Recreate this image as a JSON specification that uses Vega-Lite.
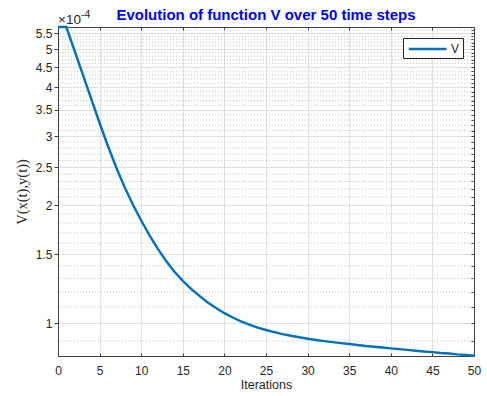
{
  "$schema": "https://vega.github.io/schema/vega-lite/v6.json",
  "width": 416,
  "height": 329,
  "autosize": {"type": "none"},
  "padding": {"left": 58, "top": 27, "right": 13, "bottom": 40},
  "background": "white",
  "config": {
    "font": "Liberation Sans",
    "view": {"stroke": null},
    "axis": {
      "labelFont": "Liberation Sans",
      "labelFontSize": 12,
      "labelColor": "#262626",
      "titleFont": "Liberation Sans",
      "titleFontWeight": "normal",
      "titleColor": "#262626",
      "domainColor": "#404040",
      "domainWidth": 1,
      "tickColor": "#404040",
      "gridColor": "#dfdfdf",
      "gridWidth": 1
    }
  },
  "title": {
    "text": "Evolution of function V over 50 time steps",
    "fontSize": 15,
    "fontWeight": "bold",
    "color": "#0000FF",
    "anchor": "middle",
    "offset": 5,
    "dy": 18,
    "font": "Liberation Sans"
  },
  "datasets": {
    "series": [
      {"t": 0, "v": 0.000570},
      {"t": 1, "v": 0.000570},
      {"t": 2, "v": 0.000495},
      {"t": 3, "v": 0.000430},
      {"t": 4, "v": 0.0003733},
      {"t": 5, "v": 0.0003242},
      {"t": 6, "v": 0.0002832},
      {"t": 7, "v": 0.0002495},
      {"t": 8, "v": 0.0002225},
      {"t": 9, "v": 0.0002008},
      {"t": 10, "v": 0.0001827},
      {"t": 11, "v": 0.0001675},
      {"t": 12, "v": 0.0001547},
      {"t": 13, "v": 0.0001440},
      {"t": 14, "v": 0.0001352},
      {"t": 15, "v": 0.0001282},
      {"t": 16, "v": 0.0001223},
      {"t": 17, "v": 0.0001173},
      {"t": 18, "v": 0.0001129},
      {"t": 19, "v": 0.0001092},
      {"t": 20, "v": 0.0001060},
      {"t": 21, "v": 0.0001033},
      {"t": 22, "v": 0.0001010},
      {"t": 23, "v": 0.0000991},
      {"t": 24, "v": 0.0000974},
      {"t": 25, "v": 0.0000960},
      {"t": 26, "v": 0.0000948},
      {"t": 27, "v": 0.0000937},
      {"t": 28, "v": 0.0000928},
      {"t": 29, "v": 0.0000920},
      {"t": 30, "v": 0.0000912},
      {"t": 31, "v": 0.0000905},
      {"t": 32, "v": 0.0000899},
      {"t": 33, "v": 0.0000894},
      {"t": 34, "v": 0.0000889},
      {"t": 35, "v": 0.0000884},
      {"t": 36, "v": 0.0000879},
      {"t": 37, "v": 0.0000874},
      {"t": 38, "v": 0.0000870},
      {"t": 39, "v": 0.0000866},
      {"t": 40, "v": 0.0000862},
      {"t": 41, "v": 0.0000858},
      {"t": 42, "v": 0.0000854},
      {"t": 43, "v": 0.0000850},
      {"t": 44, "v": 0.0000846},
      {"t": 45, "v": 0.0000843},
      {"t": 46, "v": 0.0000839},
      {"t": 47, "v": 0.0000836},
      {"t": 48, "v": 0.0000832},
      {"t": 49, "v": 0.0000829},
      {"t": 50, "v": 0.00008255}
    ],
    "minor": [
      {"m": 0.00009}, {"m": 0.00011}, {"m": 0.00012}, {"m": 0.00013}, {"m": 0.00014},
      {"m": 0.00016}, {"m": 0.00017}, {"m": 0.00018}, {"m": 0.00019},
      {"m": 0.00021}, {"m": 0.00022}, {"m": 0.00023}, {"m": 0.00024},
      {"m": 0.00026}, {"m": 0.00027}, {"m": 0.00028}, {"m": 0.00029},
      {"m": 0.00031}, {"m": 0.00032}, {"m": 0.00033}, {"m": 0.00034},
      {"m": 0.00036}, {"m": 0.00037}, {"m": 0.00038}, {"m": 0.00039},
      {"m": 0.00041}, {"m": 0.00042}, {"m": 0.00043}, {"m": 0.00044},
      {"m": 0.00046}, {"m": 0.00047}, {"m": 0.00048}, {"m": 0.00049},
      {"m": 0.00051}, {"m": 0.00052}, {"m": 0.00053}, {"m": 0.00054},
      {"m": 0.00056}
    ],
    "corner": [{"t": 0, "v": 0.00057}]
  },
  "layer": [
    {
      "data": {"name": "minor"},
      "mark": {"type": "rule", "color": "#c4c4c4", "strokeDash": [1, 2], "strokeWidth": 1},
      "encoding": {
        "y": {"field": "m", "type": "quantitative", "scale": {"type": "log", "domain": [0.0000824, 0.000570], "nice": false, "zero": false}, "axis": null}
      }
    },
    {
      "data": {"name": "series"},
      "mark": {"type": "line", "opacity": 0},
      "encoding": {
        "x": {
          "field": "t", "type": "quantitative",
          "scale": {"domain": [0, 50], "nice": false, "zero": false},
          "axis": {"orient": "top", "values": [0, 5, 10, 15, 20, 25, 30, 35, 40, 45, 50], "labels": false, "title": null, "grid": false, "tickSize": -3, "zindex": 0}
        },
        "y": {
          "field": "v", "type": "quantitative",
          "scale": {"type": "log", "domain": [0.0000824, 0.000570], "nice": false, "zero": false},
          "axis": {
            "orient": "right",
            "values": [0.00009, 0.0001, 0.00011, 0.00012, 0.00013, 0.00014, 0.00015, 0.00016, 0.00017, 0.00018, 0.00019, 0.0002, 0.00021, 0.00022, 0.00023, 0.00024, 0.00025, 0.00026, 0.00027, 0.00028, 0.00029, 0.0003, 0.00031, 0.00032, 0.00033, 0.00034, 0.00035, 0.00036, 0.00037, 0.00038, 0.00039, 0.0004, 0.00041, 0.00042, 0.00043, 0.00044, 0.00045, 0.00046, 0.00047, 0.00048, 0.00049, 0.0005, 0.00051, 0.00052, 0.00053, 0.00054, 0.00055, 0.00056],
            "labels": false, "title": null, "grid": false, "tickSize": -3, "zindex": 0
          }
        }
      }
    },
    {
      "data": {"name": "series"},
      "mark": {"type": "line", "strokeWidth": 2.4},
      "encoding": {
        "x": {
          "field": "t", "type": "quantitative",
          "scale": {"domain": [0, 50], "nice": false, "zero": false},
          "axis": {
            "orient": "bottom",
            "values": [0, 5, 10, 15, 20, 25, 30, 35, 40, 45, 50],
            "title": "Iterations",
            "titleFontSize": 12.5,
            "titlePadding": 2,
            "grid": true,
            "tickSize": -3,
            "labelPadding": 12,
            "labelFlush": false,
            "zindex": 0
          }
        },
        "y": {
          "field": "v", "type": "quantitative",
          "scale": {"type": "log", "domain": [0.0000824, 0.000570], "nice": false, "zero": false},
          "axis": {
            "orient": "left",
            "values": [0.0001, 0.00015, 0.0002, 0.00025, 0.0003, 0.00035, 0.0004, 0.00045, 0.0005, 0.00055],
            "labelExpr": "format(datum.value * 10000, '.2~f')",
            "title": "V(x(t),y(t))",
            "titleFont": "Liberation Serif",
            "titleFontSize": 14.5,
            "titlePadding": 6,
            "grid": true,
            "tickSize": 4,
            "labelPadding": 2,
            "labelFlush": false,
            "zindex": 0
          }
        },
        "color": {
          "datum": "V",
          "scale": {"range": ["#0072BD"]},
          "legend": {
            "title": null,
            "orient": "top-right",
            "offset": 11,
            "symbolType": "M-0.8,0H5",
            "symbolSize": 169,
            "symbolStrokeWidth": 2.4,
            "symbolStrokeColor": "#0072BD",
            "labelFontSize": 12,
            "labelColor": "#262626",
            "labelOffset": 29,
            "strokeColor": "#262626",
            "fillColor": "white",
            "padding": 3
          }
        }
      }
    },
    {
      "data": {"name": "corner"},
      "mark": {"type": "text", "align": "left", "baseline": "alphabetic", "dy": -3, "fontSize": 13.5, "color": "#262626", "font": "Liberation Sans"},
      "encoding": {
        "x": {"field": "t", "type": "quantitative", "axis": null},
        "y": {"field": "v", "type": "quantitative", "axis": null},
        "text": {"value": "×10"}
      }
    },
    {
      "data": {"name": "corner"},
      "mark": {"type": "text", "align": "left", "baseline": "alphabetic", "dx": 23, "dy": -9, "fontSize": 10.5, "color": "#262626", "font": "Liberation Sans"},
      "encoding": {
        "x": {"field": "t", "type": "quantitative", "axis": null},
        "y": {"field": "v", "type": "quantitative", "axis": null},
        "text": {"value": "-4"}
      }
    }
  ],
  "resolve": {"axis": {"x": "independent", "y": "independent"}}
}
